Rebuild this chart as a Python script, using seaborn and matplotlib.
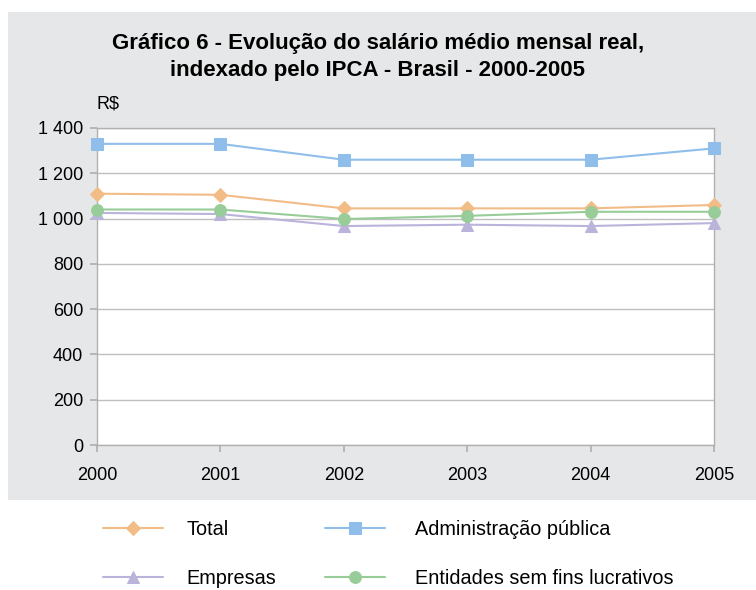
import matplotlib
import matplotlib.pyplot as plt
import numpy as np
import pandas as pd
import seaborn as sns
from matplotlib.patches import Rectangle
from matplotlib.ticker import FuncFormatter

matplotlib.use("Agg")

YEARS = [2000, 2001, 2002, 2003, 2004, 2005]
TOTAL = [1110, 1105, 1045, 1045, 1045, 1060]
ADMIN = [1330, 1330, 1260, 1260, 1260, 1310]
EMPRESAS = [1025, 1020, 967, 973, 967, 980]
ENTIDADES = [1040, 1040, 998, 1012, 1030, 1030]

SERIES = ["Total", "Administração pública", "Empresas", "Entidades sem fins lucrativos"]
COLORS = ["#F2BC87", "#8EBEE9", "#BAB4DB", "#98CC98"]
MARKERS = ["D", "s", "^", "o"]
MSIZES = [7.5, 8.5, 9, 8.5]

TITLE = "Gráfico 6 - Evolução do salário médio mensal real,\nindexado pelo IPCA - Brasil - 2000-2005"

df = pd.DataFrame(
    {
        "ano": YEARS * 4,
        "valor": TOTAL + ADMIN + EMPRESAS + ENTIDADES,
        "serie": np.repeat(SERIES, len(YEARS)),
    }
)

sns.set_theme(style="white")
plt.rcParams["font.family"] = ["Liberation Sans", "DejaVu Sans"]
plt.rcParams["text.color"] = "black"

fig = plt.figure(figsize=(7.56, 5.90), dpi=100)
fig.patches.append(
    Rectangle((8 / 756, 90 / 590), 1 - 8 / 756, 488 / 590, transform=fig.transFigure,
              facecolor="#E6E7E8", edgecolor="none", zorder=-1)
)
ax = fig.add_axes([97 / 756, 145 / 590, 617 / 756, 317 / 590])
ax.set_facecolor("white")

for name, color, marker, ms in zip(SERIES, COLORS, MARKERS, MSIZES):
    sub = df[df["serie"] == name]
    sns.lineplot(data=sub, x="ano", y="valor", color=color, marker=marker, markersize=ms,
                 markeredgecolor=color, linewidth=1.5, ax=ax, label=name, legend=False,
                 clip_on=False, zorder=3)

ax.set_xlim(2000, 2005)
ax.set_ylim(0, 1400)
ax.set_xticks(YEARS)
ax.set_yticks(range(0, 1401, 200))
ax.yaxis.set_major_formatter(FuncFormatter(lambda v, p: f"{int(v):,}".replace(",", " ")))
ax.grid(axis="y", color="#BFBFBF", linewidth=1)
ax.set_axisbelow(True)
for sp in ax.spines.values():
    sp.set_color("#B0B0B0")
    sp.set_linewidth(1)
ax.tick_params(axis="both", labelsize=13, length=5, color="#B0B0B0", direction="out",
               left=True, bottom=True, labelcolor="black")
ax.tick_params(axis="y", pad=5)
ax.tick_params(axis="x", pad=11)
ax.set_xlabel("")
ax.set_ylabel("")

fig.text(0.5, 533 / 590, TITLE, ha="center", va="center", fontsize=16, fontweight="bold",
         linespacing=1.35)
fig.text(97 / 756, 486 / 590, "R$", ha="left", va="center", fontsize=13)

handles, labels = ax.get_legend_handles_labels()
leg_kw = dict(loc="upper left", frameon=False, borderpad=0, borderaxespad=0,
              handlelength=3.0, labelspacing=1.5,
              prop={"family": ["Liberation Sans", "DejaVu Sans"], "size": 14.3})
fig.legend([handles[0], handles[2]], [labels[0], labels[2]],
           bbox_to_anchor=(103 / 756, 70 / 590), handletextpad=1.2, **leg_kw)
fig.legend([handles[1], handles[3]], [labels[1], labels[3]],
           bbox_to_anchor=(325 / 756, 70 / 590), handletextpad=1.55, **leg_kw)

fig.savefig("out.png", dpi=100)
